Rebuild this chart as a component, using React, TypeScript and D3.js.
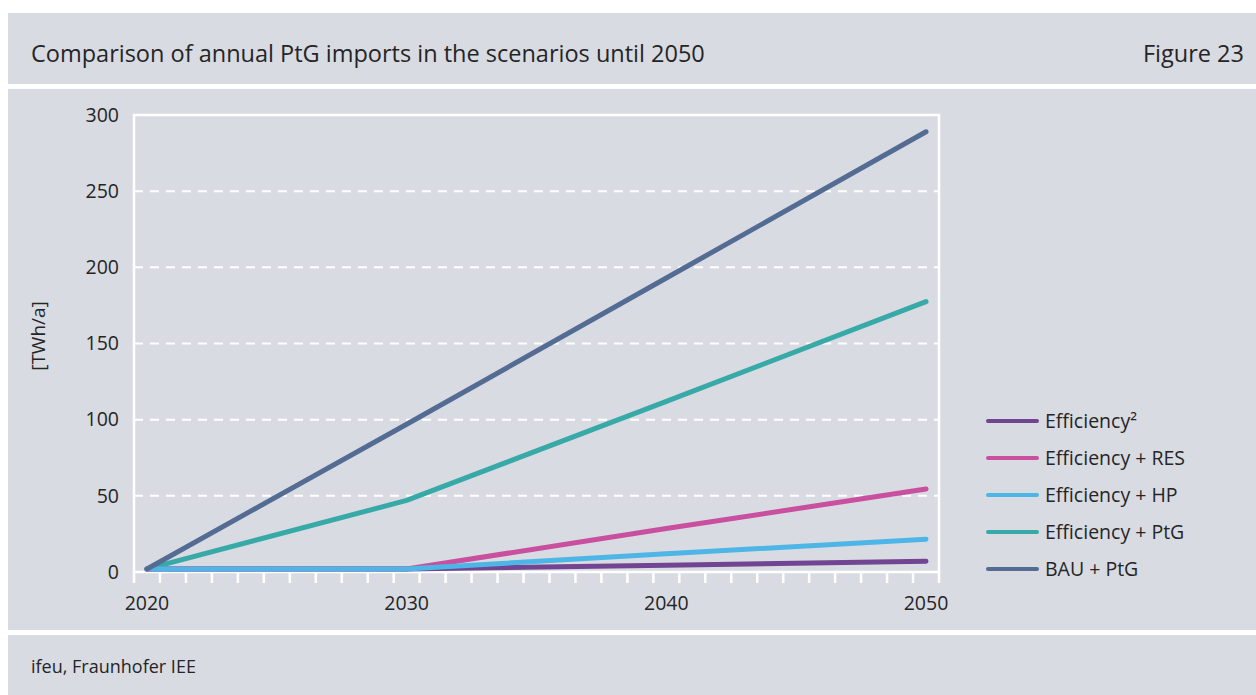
import React from "react";
import * as d3 from "d3";

const years = [2020, 2030, 2040, 2050];
const seriesNames = ["Efficiency²", "Efficiency + RES", "Efficiency + HP", "Efficiency + PtG", "BAU + PtG"];
const seriesColors = ["#714592", "#c94f9f", "#4db6e6", "#37aaa8", "#546c93"];
const efficiency2 = [2, 2, 4.5, 7];
const efficiencyRes = [2, 2, 28.5, 54.5];
const efficiencyHp = [2, 2, 12, 21.5];
const efficiencyPtg = [2, 47, 112, 177.5];
const bauPtg = [2, 97, 193, 289];
const seriesValues = [efficiency2, efficiencyRes, efficiencyHp, efficiencyPtg, bauPtg];
const drawOrder = [0, 1, 3, 2, 4];
const yTicks = [0, 50, 100, 150, 200, 250, 300];
const xLabels = [2020, 2030, 2040, 2050];
const title = "Comparison of annual PtG imports in the scenarios until 2050";
const figureLabel = "Figure 23";
const source = "ifeu, Fraunhofer IEE";
const yAxisLabel = "[TWh/a]";

const W = 1256;
const H = 695;
const BG = "#d9dbe2";
const TEXT = "#252525";
const FONT = "'Open Sans', sans-serif";

export default function App() {
  const plot = { left: 134, right: 939, top: 115, bottom: 572 };
  const x = d3.scaleLinear().domain([2019.5, 2050.5]).range([plot.left, plot.right]);
  const y = d3.scaleLinear().domain([0, 300]).range([plot.bottom, plot.top]);
  const line = d3
    .line<number>()
    .x((_, i) => x(years[i]))
    .y((v) => y(v));
  const boundaries = d3.range(2019.5, 2051, 1);

  const legendX1 = 988;
  const legendX2 = 1037;
  const legendY0 = 421;
  const legendStep = 37;

  return (
    <svg
      width={W}
      height={H}
      style={{ position: "absolute", left: 0, top: 0, display: "block" }}
      fontFamily={FONT}
    >
      <rect x={0} y={0} width={W} height={H} fill="#ffffff" />
      <rect x={8} y={13} width={W - 8} height={71} fill={BG} />
      <rect x={8} y={89} width={W - 8} height={541} fill={BG} />
      <rect x={8} y={635} width={W - 8} height={H - 635} fill={BG} />

      <text x={31} y={62} fontSize={23.5} fill={TEXT}>
        {title}
      </text>
      <text x={1244} y={62} fontSize={23.5} fill={TEXT} textAnchor="end">
        {figureLabel}
      </text>
      <text x={31} y={673} fontSize={18} fill={TEXT}>
        {source}
      </text>

      {/* grid */}
      {yTicks
        .filter((t) => t > 0 && t < 300)
        .map((t) => (
          <line
            key={"g" + t}
            x1={plot.left}
            x2={plot.right}
            y1={y(t)}
            y2={y(t)}
            stroke="#ffffff"
            strokeWidth={2}
            strokeDasharray="9,7"
          />
        ))}

      {/* frame */}
      <rect
        x={plot.left}
        y={plot.top}
        width={plot.right - plot.left}
        height={plot.bottom - plot.top}
        fill="none"
        stroke="#ffffff"
        strokeWidth={2.5}
      />

      {/* x ticks */}
      {boundaries.map((b) => (
        <line
          key={"t" + b}
          x1={x(b)}
          x2={x(b)}
          y1={plot.bottom}
          y2={plot.bottom + 11}
          stroke="#ffffff"
          strokeWidth={2.5}
        />
      ))}

      {/* y tick labels */}
      {yTicks.map((t) => (
        <text
          key={"y" + t}
          x={119}
          y={y(t)}
          dy="0.35em"
          textAnchor="end"
          fontSize={19.5}
          fill={TEXT}
        >
          {t}
        </text>
      ))}

      {/* x labels */}
      {xLabels.map((l) => (
        <text key={"x" + l} x={x(l)} y={610} textAnchor="middle" fontSize={19.5} fill={TEXT}>
          {l}
        </text>
      ))}

      <text
        transform={`translate(45,336) rotate(-90)`}
        textAnchor="middle"
        fontSize={19}
        fill={TEXT}
      >
        {yAxisLabel}
      </text>

      {/* lines */}
      {drawOrder.map((i) => (
        <path
          key={"s" + i}
          d={line(seriesValues[i]) || ""}
          fill="none"
          stroke={seriesColors[i]}
          strokeWidth={5}
          strokeLinecap="round"
          strokeLinejoin="round"
        />
      ))}

      {/* legend */}
      {seriesNames.map((n, i) => (
        <g key={"l" + i} transform={`translate(0,${legendY0 + i * legendStep})`}>
          <line
            x1={legendX1}
            x2={legendX2}
            y1={0}
            y2={0}
            stroke={seriesColors[i]}
            strokeWidth={4}
            strokeLinecap="round"
          />
          <text x={1045} y={0} dy="0.35em" fontSize={19.5} fill={TEXT}>
            {n}
          </text>
        </g>
      ))}
    </svg>
  );
}
